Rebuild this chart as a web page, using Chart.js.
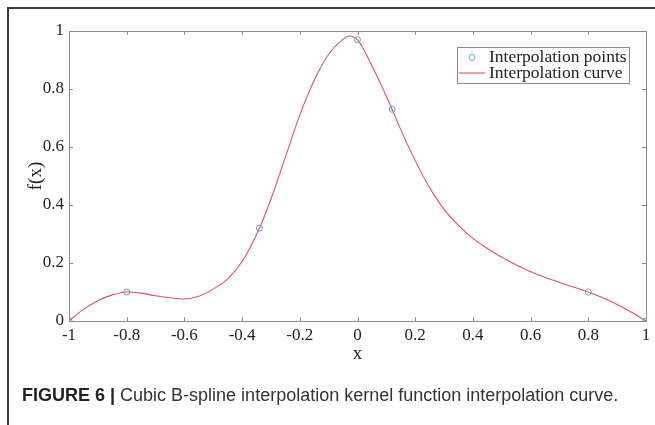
<!DOCTYPE html>
<html>
<head>
<meta charset="utf-8">
<script src="https://cdn.jsdelivr.net/npm/chart.js@4.4.1/dist/chart.umd.min.js"></script>
<style>
  html, body { margin: 0; padding: 0; background: #fff; }
  body { width: 655px; height: 425px; position: relative; overflow: hidden; }
  #frame { position: absolute; left: 7px; top: 7px; width: 660px; height: 430px;
           border-top: 2px solid #3a3a3a; border-left: 2px solid #3a3a3a; }
  #wrap { position: absolute; left: 0; top: 0; width: 655px; height: 425px; }
  #caption { position: absolute; left: 22px; top: 385px; font-family: "Liberation Sans", Arial, sans-serif;
             font-size: 18px; color: #333; white-space: nowrap; }
  #caption b { color: #222; }
</style>
</head>
<body>
<div id="frame"></div>
<div id="wrap"><canvas id="grafico" width="655" height="425"></canvas></div>
<div id="caption"><b>FIGURE 6 |</b> Cubic B-spline interpolation kernel function interpolation curve.</div>
<script>
// pontos de interpolação
const pontosX = [-1, -0.8, -0.34, 0, 0.12, 0.8, 1];
const pontosY = [0, 0.1, 0.32, 0.97, 0.73, 0.1, 0];

// curva
const curvaX = [-1, -0.95, -0.9, -0.85, -0.8, -0.75, -0.7, -0.65, -0.6, -0.55, -0.5, -0.45, -0.4, -0.34, -0.3,
                -0.25, -0.2, -0.15, -0.1, -0.05, -0.03, 0, 0.05, 0.1, 0.12, 0.15, 0.2, 0.25, 0.3, 0.35,
                0.4, 0.45, 0.5, 0.6, 0.7, 0.8, 0.85, 0.9, 0.95, 1];
const curvaY = [0, 0.04, 0.07, 0.09, 0.1, 0.096, 0.087, 0.08, 0.076, 0.085, 0.11, 0.145, 0.205, 0.32, 0.42,
                0.565, 0.71, 0.83, 0.92, 0.972, 0.983, 0.97, 0.88, 0.775, 0.73, 0.66, 0.553, 0.46, 0.385, 0.33,
                0.285, 0.25, 0.22, 0.17, 0.133, 0.1, 0.08, 0.057, 0.03, 0];

const ticksX = [-1, -0.8, -0.6, -0.4, -0.2, 0, 0.2, 0.4, 0.6, 0.8, 1];
const ticksY = [0, 0.2, 0.4, 0.6, 0.8, 1];

const corPontos = '#5b9fd0';
const corCurva = '#e4505f';
const corEixo = '#8a8a8a';
const fonteSerif = '"Liberation Serif", "DejaVu Serif", serif';

// caixa do eixo + ticks para dentro (estilo MATLAB)
const caixaPlugin = {
    id: 'caixa',
    afterDatasetsDraw(chart) {
        const { ctx, chartArea: a, scales } = chart;
        ctx.save();
        ctx.strokeStyle = corEixo;
        ctx.lineWidth = 1;
        ctx.strokeRect(a.left + 0.5, a.top + 0.5, a.right - a.left, a.bottom - a.top);
        ctx.beginPath();
        ticksX.forEach(v => {
            const px = Math.round(scales.x.getPixelForValue(v)) + 0.5;
            ctx.moveTo(px, a.bottom); ctx.lineTo(px, a.bottom - 4);
            ctx.moveTo(px, a.top); ctx.lineTo(px, a.top + 4);
        });
        ticksY.forEach(v => {
            const py = Math.round(scales.y.getPixelForValue(v)) + 0.5;
            ctx.moveTo(a.left, py); ctx.lineTo(a.left + 4, py);
            ctx.moveTo(a.right, py); ctx.lineTo(a.right - 4, py);
        });
        ctx.stroke();

        // legenda
        const lx = 457, ly = 47, lw = 172, lh = 36;
        ctx.fillStyle = '#fff';
        ctx.fillRect(lx, ly, lw, lh);
        ctx.strokeStyle = '#8a8a8a';
        ctx.strokeRect(lx + 0.5, ly + 0.5, lw, lh);
        ctx.strokeStyle = corPontos;
        ctx.beginPath();
        ctx.arc(472, 57.5, 3, 0, Math.PI * 2);
        ctx.stroke();
        ctx.strokeStyle = corCurva;
        ctx.lineWidth = 1.1;
        ctx.beginPath();
        ctx.moveTo(459, 73); ctx.lineTo(485, 73);
        ctx.stroke();
        ctx.fillStyle = '#222';
        ctx.font = '17.5px ' + fonteSerif;
        ctx.textBaseline = 'middle';
        ctx.fillText('Interpolation points', 489, 57);
        ctx.fillText('Interpolation curve', 489, 73);
        ctx.restore();
    }
};

new Chart(document.getElementById('grafico').getContext('2d'), {
    type: 'scatter',
    data: {
        datasets: [{
            label: 'Interpolation points',
            data: pontosX.map((x, i) => ({ x: x, y: pontosY[i] })),
            pointStyle: 'circle',
            pointRadius: 3,
            borderColor: corPontos,
            backgroundColor: 'rgba(0,0,0,0)',
            borderWidth: 1,
            order: 0
        }, {
            label: 'Interpolation curve',
            data: curvaX.map((x, i) => ({ x: x, y: curvaY[i] })),
            showLine: true,
            pointRadius: 0,
            borderColor: corCurva,
            borderWidth: 1.1,
            cubicInterpolationMode: 'monotone',
            order: 1
        }]
    },
    options: {
        responsive: false,
        animation: false,
        layout: { autoPadding: false, padding: { left: 0, top: 31, right: 9, bottom: 60 } },
        scales: {
            x: {
                type: 'linear', min: -1, max: 1,
                afterBuildTicks: s => { s.ticks = ticksX.map(v => ({ value: v })); },
                afterFit: s => { s.height = 44; },
                grid: { display: false, drawTicks: false },
                border: { display: false },
                ticks: { color: '#222', padding: 4, font: { family: fonteSerif, size: 17 }, maxRotation: 0,
                         callback: v => String(v) },
                title: { display: true, text: 'x', color: '#222', padding: { top: 0, bottom: 0 },
                         font: { family: fonteSerif, size: 19 } }
            },
            y: {
                type: 'linear', min: 0, max: 1,
                afterBuildTicks: s => { s.ticks = ticksY.map(v => ({ value: v })); },
                afterFit: s => { s.width = 69; },
                grid: { display: false, drawTicks: false },
                border: { display: false },
                ticks: { color: '#222', padding: 5, font: { family: fonteSerif, size: 17 },
                         callback: v => String(v) },
                title: { display: true, text: 'f(x)', color: '#222', padding: { top: 25, bottom: 0 },
                         font: { family: fonteSerif, size: 19 } }
            }
        },
        plugins: {
            legend: { display: false },
            tooltip: { enabled: false }
        }
    },
    plugins: [caixaPlugin]
});
</script>
</body>
</html>
